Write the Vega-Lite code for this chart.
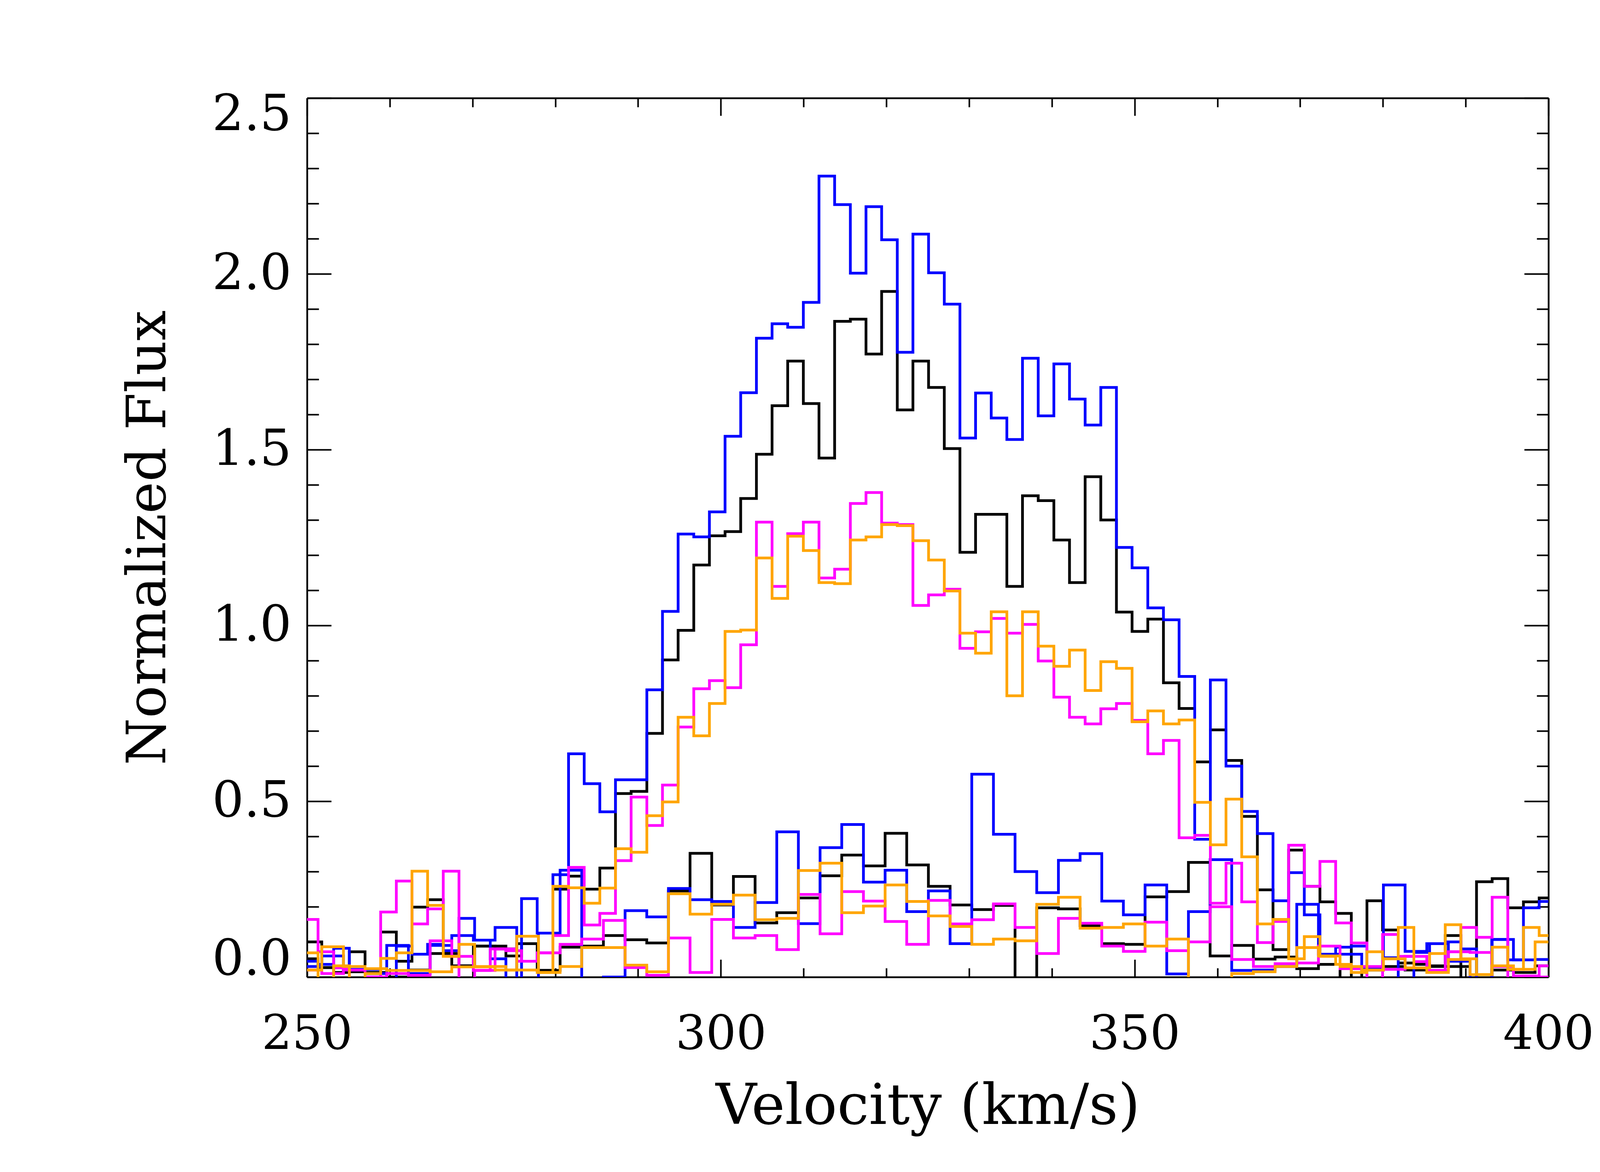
{
  "$schema": "https://vega.github.io/schema/vega-lite/v6.json",
  "width": 3178,
  "height": 2250,
  "autosize": {"type": "none"},
  "padding": {"left": 786, "top": 251, "right": 236, "bottom": 499},
  "background": "white",
  "config": {
    "view": {"stroke": null},
    "axis": {
      "domainColor": "black", "domainWidth": 4.5, "tickColor": "black", "tickWidth": 4,
      "labelFont": "DejaVu Serif", "labelFontSize": 122, "labelColor": "black", "labelLimit": 0,
      "titleFont": "DejaVu Serif", "titleFontSize": 138, "titleFontWeight": "normal", "titleColor": "black", "titleLimit": 0,
      "grid": false, "labelOverlap": false
    }
  },
  "datasets": {
    "high": [
      {"v":249.44,"blue":0.045,"black":0.052,"magenta":0.164,"orange":0.069},
      {"v":251.33,"blue":0.036,"black":0.027,"magenta":0.072,"orange":-0.02},
      {"v":253.22,"blue":0.082,"black":0.013,"magenta":0.026,"orange":0.032},
      {"v":255.11,"blue":0.022,"black":0.072,"magenta":-0.02,"orange":-0.02},
      {"v":257.01,"blue":0.022,"black":0.013,"magenta":0.0,"orange":0.01},
      {"v":258.90,"blue":-0.02,"black":0.128,"magenta":0.185,"orange":0.053},
      {"v":260.79,"blue":0.088,"black":0.045,"magenta":0.273,"orange":0.069},
      {"v":262.68,"blue":0.065,"black":0.199,"magenta":0.151,"orange":0.301},
      {"v":264.57,"blue":0.093,"black":0.22,"magenta":0.194,"orange":0.204},
      {"v":266.46,"blue":0.075,"black":0.067,"magenta":0.301,"orange":0.059},
      {"v":268.36,"blue":0.167,"black":0.032,"magenta":-0.02,"orange":0.093},
      {"v":270.25,"blue":0.105,"black":0.088,"magenta":0.019,"orange":0.03},
      {"v":272.14,"blue":0.052,"black":0.088,"magenta":0.08,"orange":0.03},
      {"v":274.03,"blue":-0.02,"black":0.06,"magenta":0.075,"orange":0.02},
      {"v":275.92,"blue":0.223,"black":0.095,"magenta":0.045,"orange":0.02},
      {"v":277.81,"blue":0.125,"black":0.019,"magenta":0.069,"orange":0.013},
      {"v":279.71,"blue":0.291,"black":0.25,"magenta":0.118,"orange":0.258},
      {"v":281.60,"blue":0.635,"black":0.287,"magenta":0.312,"orange":0.254},
      {"v":283.49,"blue":0.55,"black":0.25,"magenta":0.148,"orange":0.21},
      {"v":285.38,"blue":0.47,"black":0.31,"magenta":0.181,"orange":0.253},
      {"v":287.27,"blue":0.561,"black":0.522,"magenta":0.331,"orange":0.365},
      {"v":289.16,"blue":0.561,"black":0.528,"magenta":0.512,"orange":0.355},
      {"v":291.06,"blue":0.817,"black":0.693,"magenta":0.431,"orange":0.459},
      {"v":292.95,"blue":1.04,"black":0.902,"magenta":0.546,"orange":0.498},
      {"v":294.84,"blue":1.26,"black":0.986,"magenta":0.711,"orange":0.739},
      {"v":296.73,"blue":1.252,"black":1.172,"magenta":0.82,"orange":0.686},
      {"v":298.62,"blue":1.323,"black":1.255,"magenta":0.843,"orange":0.778},
      {"v":300.51,"blue":1.538,"black":1.267,"magenta":0.823,"orange":0.983},
      {"v":302.40,"blue":1.662,"black":1.361,"magenta":0.945,"orange":0.987},
      {"v":304.30,"blue":1.817,"black":1.487,"magenta":1.294,"orange":1.192},
      {"v":306.19,"blue":1.858,"black":1.625,"magenta":1.111,"orange":1.077},
      {"v":308.08,"blue":1.848,"black":1.752,"magenta":1.261,"orange":1.254},
      {"v":309.97,"blue":1.919,"black":1.631,"magenta":1.294,"orange":1.213},
      {"v":311.86,"blue":2.278,"black":1.476,"magenta":1.135,"orange":1.122},
      {"v":313.75,"blue":2.197,"black":1.865,"magenta":1.16,"orange":1.119},
      {"v":315.65,"blue":2.002,"black":1.871,"magenta":1.347,"orange":1.243},
      {"v":317.54,"blue":2.191,"black":1.772,"magenta":1.378,"orange":1.252},
      {"v":319.43,"blue":2.097,"black":1.95,"magenta":1.291,"orange":1.287},
      {"v":321.32,"blue":1.777,"black":1.613,"magenta":1.287,"orange":1.284},
      {"v":323.21,"blue":2.113,"black":1.752,"magenta":1.057,"orange":1.241},
      {"v":325.10,"blue":2.003,"black":1.677,"magenta":1.087,"orange":1.186},
      {"v":327.00,"blue":1.914,"black":1.503,"magenta":1.103,"orange":1.098},
      {"v":328.89,"blue":1.533,"black":1.208,"magenta":0.935,"orange":0.978},
      {"v":330.78,"blue":1.661,"black":1.316,"magenta":0.982,"orange":0.921},
      {"v":332.67,"blue":1.59,"black":1.316,"magenta":1.02,"orange":1.039},
      {"v":334.56,"blue":1.529,"black":1.111,"magenta":0.978,"orange":0.80},
      {"v":336.45,"blue":1.76,"black":1.369,"magenta":1.003,"orange":1.039},
      {"v":338.35,"blue":1.596,"black":1.355,"magenta":0.899,"orange":0.941},
      {"v":340.24,"blue":1.744,"black":1.243,"magenta":0.796,"orange":0.884},
      {"v":342.13,"blue":1.644,"black":1.122,"magenta":0.739,"orange":0.93},
      {"v":344.02,"blue":1.57,"black":1.423,"magenta":0.72,"orange":0.815},
      {"v":345.91,"blue":1.677,"black":1.30,"magenta":0.763,"orange":0.897},
      {"v":347.80,"blue":1.222,"black":1.038,"magenta":0.778,"orange":0.878},
      {"v":349.69,"blue":1.164,"black":0.983,"magenta":0.73,"orange":0.726},
      {"v":351.59,"blue":1.05,"black":1.018,"magenta":0.635,"orange":0.757},
      {"v":353.48,"blue":1.016,"black":0.837,"magenta":0.673,"orange":0.72},
      {"v":355.37,"blue":0.855,"black":0.764,"magenta":0.396,"orange":0.731},
      {"v":357.26,"blue":0.392,"black":0.612,"magenta":0.403,"orange":0.497},
      {"v":359.15,"blue":0.845,"black":0.703,"magenta":0.21,"orange":0.376},
      {"v":361.04,"blue":0.6,"black":0.616,"magenta":0.324,"orange":0.506},
      {"v":362.94,"blue":0.471,"black":0.457,"magenta":0.214,"orange":0.342},
      {"v":364.83,"blue":0.408,"black":0.248,"magenta":0.098,"orange":0.151},
      {"v":366.72,"blue":0.217,"black":0.078,"magenta":0.158,"orange":0.164},
      {"v":368.61,"blue":0.297,"black":0.361,"magenta":0.375,"orange":0.052},
      {"v":370.50,"blue":0.177,"black":0.258,"magenta":0.258,"orange":0.115},
      {"v":372.39,"blue":0.065,"black":0.214,"magenta":0.329,"orange":0.059},
      {"v":374.29,"blue":0.085,"black":0.181,"magenta":0.154,"orange":0.036},
      {"v":376.18,"blue":0.088,"black":-0.02,"magenta":0.097,"orange":0.013},
      {"v":378.07,"blue":0.027,"black":0.217,"magenta":-0.02,"orange":0.072},
      {"v":379.96,"blue":0.055,"black":0.134,"magenta":0.121,"orange":0.052},
      {"v":381.85,"blue":-0.02,"black":0.04,"magenta":0.059,"orange":0.141},
      {"v":383.74,"blue":0.07,"black":0.036,"magenta":0.044,"orange":0.026},
      {"v":385.64,"blue":0.095,"black":0.032,"magenta":0.019,"orange":0.067},
      {"v":387.53,"blue":0.1,"black":0.118,"magenta":0.072,"orange":0.149},
      {"v":389.42,"blue":0.08,"black":-0.02,"magenta":0.141,"orange":0.052},
      {"v":391.31,"blue":-0.02,"black":0.271,"magenta":0.113,"orange":0.007},
      {"v":393.20,"blue":0.107,"black":0.28,"magenta":0.227,"orange":0.085},
      {"v":395.09,"blue":0.049,"black":0.197,"magenta":-0.02,"orange":0.022},
      {"v":396.98,"blue":0.197,"black":0.214,"magenta":0.003,"orange":0.141},
      {"v":398.88,"blue":0.215,"black":0.225,"magenta":0.032,"orange":0.118},
      {"v":400.77,"blue":0.215,"black":0.225,"magenta":0.032,"orange":0.118}
    ],
    "low": [
      {"v":249.16,"blue":0.03,"black":0.1,"magenta":0.02,"orange":0.02},
      {"v":251.78,"blue":0.06,"black":0.027,"magenta":0.01,"orange":0.086},
      {"v":254.40,"blue":0.02,"black":0.015,"magenta":0.02,"orange":0.03},
      {"v":257.01,"blue":0.01,"black":0.013,"magenta":0.0,"orange":0.024},
      {"v":259.63,"blue":0.09,"black":0.0,"magenta":0.01,"orange":0.019},
      {"v":262.25,"blue":0.01,"black":0.02,"magenta":0.005,"orange":0.019},
      {"v":264.87,"blue":0.09,"black":0.067,"magenta":0.103,"orange":0.015},
      {"v":267.49,"blue":0.118,"black":0.032,"magenta":0.059,"orange":0.029},
      {"v":270.10,"blue":0.105,"black":0.088,"magenta":0.019,"orange":0.029},
      {"v":272.72,"blue":0.141,"black":0.08,"magenta":0.08,"orange":0.02},
      {"v":275.34,"blue":-0.02,"black":0.095,"magenta":0.045,"orange":0.116},
      {"v":277.96,"blue":0.125,"black":0.019,"magenta":0.069,"orange":0.013},
      {"v":280.58,"blue":0.304,"black":0.085,"magenta":0.093,"orange":0.03},
      {"v":283.19,"blue":-0.03,"black":0.088,"magenta":0.108,"orange":0.084},
      {"v":285.81,"blue":0.0,"black":0.118,"magenta":0.161,"orange":0.084},
      {"v":288.43,"blue":0.189,"black":0.106,"magenta":0.027,"orange":0.034},
      {"v":291.05,"blue":0.171,"black":0.097,"magenta":0.005,"orange":0.015},
      {"v":293.67,"blue":0.252,"black":0.245,"magenta":0.111,"orange":0.237},
      {"v":296.28,"blue":0.22,"black":0.352,"magenta":0.013,"orange":0.179},
      {"v":298.90,"blue":0.215,"black":0.205,"magenta":0.164,"orange":0.207},
      {"v":301.52,"blue":0.141,"black":0.286,"magenta":0.111,"orange":0.233},
      {"v":304.14,"blue":0.212,"black":0.154,"magenta":0.118,"orange":0.163},
      {"v":306.76,"blue":0.413,"black":0.183,"magenta":0.078,"orange":0.167},
      {"v":309.37,"blue":0.152,"black":0.225,"magenta":0.235,"orange":0.303},
      {"v":311.99,"blue":0.368,"black":0.288,"magenta":0.123,"orange":0.324},
      {"v":314.61,"blue":0.434,"black":0.347,"magenta":0.243,"orange":0.183},
      {"v":317.23,"blue":0.27,"black":0.316,"magenta":0.216,"orange":0.202},
      {"v":319.85,"blue":0.304,"black":0.409,"magenta":0.158,"orange":0.262},
      {"v":322.46,"blue":0.186,"black":0.319,"magenta":0.093,"orange":0.215},
      {"v":325.08,"blue":0.245,"black":0.258,"magenta":0.218,"orange":0.174},
      {"v":327.70,"blue":0.095,"black":0.205,"magenta":0.151,"orange":0.144},
      {"v":330.32,"blue":0.577,"black":0.192,"magenta":0.163,"orange":0.093},
      {"v":332.94,"blue":0.406,"black":0.204,"magenta":0.208,"orange":0.108},
      {"v":335.55,"blue":0.30,"black":-0.03,"magenta":0.141,"orange":0.103},
      {"v":338.17,"blue":0.24,"black":0.197,"magenta":0.067,"orange":0.207},
      {"v":340.79,"blue":0.332,"black":0.194,"magenta":0.167,"orange":0.227},
      {"v":343.41,"blue":0.351,"black":0.146,"magenta":0.153,"orange":0.139},
      {"v":346.03,"blue":0.216,"black":0.095,"magenta":0.088,"orange":0.141},
      {"v":348.64,"blue":0.177,"black":0.093,"magenta":0.073,"orange":0.151},
      {"v":351.26,"blue":0.262,"black":0.228,"magenta":0.156,"orange":0.088},
      {"v":353.88,"blue":0.009,"black":0.243,"magenta":0.075,"orange":0.108},
      {"v":356.50,"blue":0.186,"black":0.326,"magenta":0.1,"orange":-0.03},
      {"v":359.12,"blue":0.334,"black":0.06,"magenta":0.2,"orange":-0.02},
      {"v":361.73,"blue":0.019,"black":0.09,"magenta":0.05,"orange":0.01},
      {"v":364.35,"blue":0.02,"black":0.051,"magenta":0.03,"orange":0.015},
      {"v":366.97,"blue":0.03,"black":0.057,"magenta":0.038,"orange":0.03},
      {"v":369.59,"blue":0.207,"black":0.024,"magenta":0.04,"orange":0.084},
      {"v":372.21,"blue":0.065,"black":0.036,"magenta":0.088,"orange":0.06},
      {"v":374.82,"blue":0.065,"black":-0.01,"magenta":0.024,"orange":0.03},
      {"v":377.44,"blue":0.027,"black":0.02,"magenta":0.03,"orange":0.02},
      {"v":380.06,"blue":0.262,"black":0.03,"magenta":0.022,"orange":0.052},
      {"v":382.68,"blue":0.073,"black":0.02,"magenta":0.059,"orange":0.026},
      {"v":385.30,"blue":0.095,"black":0.03,"magenta":0.019,"orange":0.013},
      {"v":387.91,"blue":0.045,"black":0.03,"magenta":0.072,"orange":0.05},
      {"v":390.53,"blue":-0.02,"black":-0.01,"magenta":0.07,"orange":0.007},
      {"v":393.15,"blue":0.107,"black":0.02,"magenta":0.03,"orange":0.032},
      {"v":395.77,"blue":0.049,"black":0.013,"magenta":0.003,"orange":0.022},
      {"v":398.39,"blue":0.05,"black":0.032,"magenta":0.0,"orange":0.1},
      {"v":401.00,"blue":0.05,"black":0.032,"magenta":0.0,"orange":0.1}
    ]
  },
  "resolve": {"axis": {"x": "independent", "y": "independent"}},
  "layer": [
    {
      "data": {"name": "high"},
      "mark": {"type": "line", "interpolate": "step-after", "clip": true, "strokeWidth": 7, "color": "#000000"},
      "encoding": {
        "x": {"field": "v", "type": "quantitative", "axis": null, "scale": {"domain": [250, 400], "nice": false, "zero": false}},
        "y": {"field": "black", "type": "quantitative", "axis": null, "scale": {"domain": [0, 2.5], "nice": false}}
      }
    },
    {
      "data": {"name": "low"},
      "mark": {"type": "line", "interpolate": "step-after", "clip": true, "strokeWidth": 7, "color": "#000000"},
      "encoding": {
        "x": {"field": "v", "type": "quantitative", "axis": null},
        "y": {"field": "black", "type": "quantitative", "axis": null}
      }
    },
    {
      "data": {"name": "high"},
      "mark": {"type": "line", "interpolate": "step-after", "clip": true, "strokeWidth": 7, "color": "#0000ff"},
      "encoding": {
        "x": {"field": "v", "type": "quantitative", "axis": null},
        "y": {"field": "blue", "type": "quantitative", "axis": null}
      }
    },
    {
      "data": {"name": "low"},
      "mark": {"type": "line", "interpolate": "step-after", "clip": true, "strokeWidth": 7, "color": "#0000ff"},
      "encoding": {
        "x": {"field": "v", "type": "quantitative", "axis": null},
        "y": {"field": "blue", "type": "quantitative", "axis": null}
      }
    },
    {
      "data": {"name": "high"},
      "mark": {"type": "line", "interpolate": "step-after", "clip": true, "strokeWidth": 7, "color": "#ff00ff"},
      "encoding": {
        "x": {"field": "v", "type": "quantitative", "axis": null},
        "y": {"field": "magenta", "type": "quantitative", "axis": null}
      }
    },
    {
      "data": {"name": "low"},
      "mark": {"type": "line", "interpolate": "step-after", "clip": true, "strokeWidth": 7, "color": "#ff00ff"},
      "encoding": {
        "x": {"field": "v", "type": "quantitative", "axis": null},
        "y": {"field": "magenta", "type": "quantitative", "axis": null}
      }
    },
    {
      "data": {"name": "high"},
      "mark": {"type": "line", "interpolate": "step-after", "clip": true, "strokeWidth": 7, "color": "#ffa500"},
      "encoding": {
        "x": {"field": "v", "type": "quantitative", "axis": null},
        "y": {"field": "orange", "type": "quantitative", "axis": null}
      }
    },
    {
      "data": {"name": "low"},
      "mark": {"type": "line", "interpolate": "step-after", "clip": true, "strokeWidth": 7, "color": "#ffa500"},
      "encoding": {
        "x": {"field": "v", "type": "quantitative", "axis": null},
        "y": {"field": "orange", "type": "quantitative", "axis": null}
      }
    },
    {
      "data": {"name": "high"},
      "mark": {"type": "point", "opacity": 0, "clip": true},
      "encoding": {
        "x": {"field": "v", "type": "quantitative", "axis": {"orient": "bottom", "values": [250, 300, 350, 400], "format": "d", "tickSize": -45, "labelPadding": 132, "labelFlush": false, "title": "Velocity (km/s)", "titleFontSize": 145, "titlePadding": 60}},
        "y": {"field": "blue", "type": "quantitative", "axis": {"orient": "left", "values": [0, 0.5, 1, 1.5, 2, 2.5], "format": ".1f", "tickSize": -62, "labelFontSize": 128, "labelPadding": 102, "labelFlush": true, "labelFlushOffset": 20, "title": "Normalized Flux", "titlePadding": 135}}
      }
    },
    {
      "data": {"name": "high"},
      "mark": {"type": "point", "opacity": 0, "clip": true},
      "encoding": {
        "x": {"field": "v", "type": "quantitative", "axis": {"orient": "top", "values": [250, 300, 350, 400], "tickSize": -45, "labels": false, "title": null}},
        "y": {"field": "blue", "type": "quantitative", "axis": {"orient": "right", "values": [0, 0.5, 1, 1.5, 2, 2.5], "tickSize": -62, "labels": false, "title": null}}
      }
    },
    {
      "data": {"name": "high"},
      "mark": {"type": "point", "opacity": 0, "clip": true},
      "encoding": {
        "x": {"field": "v", "type": "quantitative", "axis": {"orient": "bottom", "values": [260, 270, 280, 290, 310, 320, 330, 340, 360, 370, 380, 390], "tickSize": -23, "labels": false, "domain": false, "title": null}},
        "y": {"field": "blue", "type": "quantitative", "axis": {"orient": "left", "values": [0.1, 0.2, 0.3, 0.4, 0.6, 0.7, 0.8, 0.9, 1.1, 1.2, 1.3, 1.4, 1.6, 1.7, 1.8, 1.9, 2.1, 2.2, 2.3, 2.4], "tickSize": -30, "labels": false, "domain": false, "title": null}}
      }
    },
    {
      "data": {"name": "high"},
      "mark": {"type": "point", "opacity": 0, "clip": true},
      "encoding": {
        "x": {"field": "v", "type": "quantitative", "axis": {"orient": "top", "values": [260, 270, 280, 290, 310, 320, 330, 340, 360, 370, 380, 390], "tickSize": -23, "labels": false, "domain": false, "title": null}},
        "y": {"field": "blue", "type": "quantitative", "axis": {"orient": "right", "values": [0.1, 0.2, 0.3, 0.4, 0.6, 0.7, 0.8, 0.9, 1.1, 1.2, 1.3, 1.4, 1.6, 1.7, 1.8, 1.9, 2.1, 2.2, 2.3, 2.4], "tickSize": -30, "labels": false, "domain": false, "title": null}}
      }
    }
  ]
}
